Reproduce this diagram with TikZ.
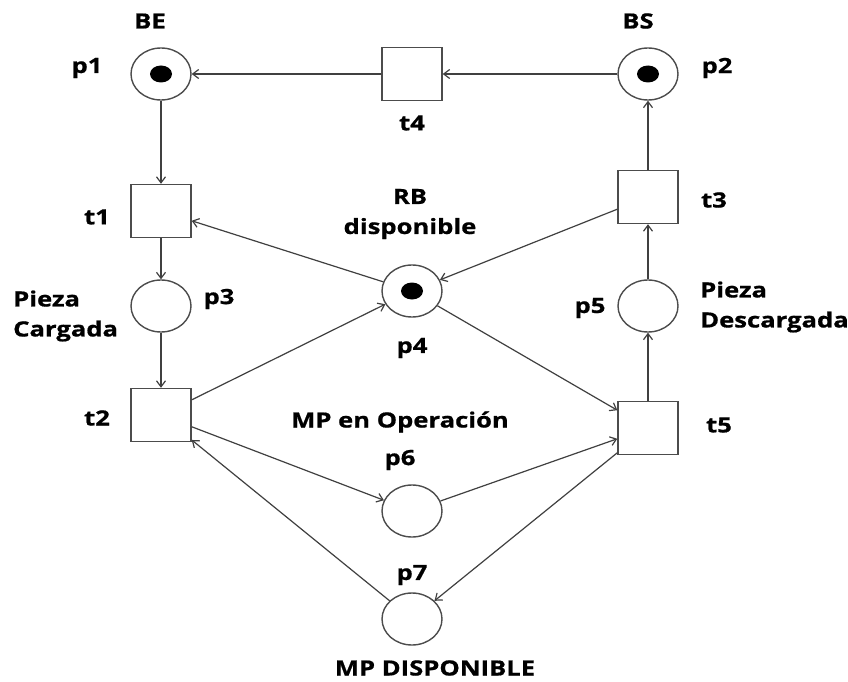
\documentclass[tikz,border=0pt]{standalone}
\usepackage{fontspec}
\setmainfont{Open Sans}[FakeStretch=1.22,BoldFeatures={FakeBold=0.8}]
\usetikzlibrary{shapes.geometric,arrows.meta}
\begin{document}
\begin{tikzpicture}[x=1pt,y=-1pt,
  place/.style={ellipse,draw=black!70,line width=1.4pt,minimum width=60pt,minimum height=52pt,inner sep=0pt},
  trans/.style={rectangle,draw=black!70,line width=1.4pt,minimum width=60pt,minimum height=53pt,inner sep=0pt},
  token/.style={ellipse,fill=black,minimum width=22pt,minimum height=17pt,inner sep=0pt},
  lbl/.style={font=\fontsize{21}{30}\selectfont\bfseries,inner sep=0pt},
  arc/.style={draw=black!75,line width=1.2pt,-{Straight Barb[length=6pt,width=9pt,line width=1.2pt]}}]
\useasboundingbox[fill=white] (0,0) rectangle (848,682);

% places
\node[place] (p1) at (161,74) {};
\node[place] (p2) at (648,74) {};
\node[place] (p3) at (161,306) {};
\node[place] (p4) at (412,291) {};
\node[place] (p5) at (648,306) {};
\node[place] (p6) at (412,511) {};
\node[place] (p7) at (412,619) {};

% marking
\node[token] (k1) at (p1) {};
\node[token] (k2) at (p2) {};
\node[token] (k4) at (p4) {};

% transitions
\node[trans] (t1) at (161,211) {};
\node[trans] (t2) at (161,415) {};
\node[trans] (t3) at (648,197) {};
\node[trans] (t4) at (412,74) {};
\node[trans] (t5) at (648,428) {};

% names
\node[lbl] (lp1) at (87,68) {p1};
\node[lbl] (lp2) at (717,68) {p2};
\node[lbl] (lp3) at (219,299) {p3};
\node[lbl] (lp4) at (412,348) {p4};
\node[lbl] (lp5) at (590,308) {p5};
\node[lbl] (lp6) at (400,460) {p6};
\node[lbl] (lp7) at (412,575) {p7};
\node[lbl] (lt1) at (97,217) {t1};
\node[lbl] (lt2) at (97,418) {t2};
\node[lbl] (lt3) at (714,200) {t3};
\node[lbl] (lt4) at (412,123) {t4};
\node[lbl] (lt5) at (719,425) {t5};

% descriptions
\node[lbl] (dBE) at (150,21) {BE};
\node[lbl] (dBS) at (638,21) {BS};
\node[lbl,align=center] (dRB) at (410,214) {RB\\disponible};
\node[lbl,align=left,anchor=west] (dp3) at (13,316) {Pieza\\Cargada};
\node[lbl,align=left,anchor=west] (dp5) at (700,307) {Pieza\\Descargada};
\node[lbl] (dp6) at (400,422) {MP en Operación};
\node[lbl] (dp7) at (435,668) {MP DISPONIBLE};

% arcs
\draw[arc] (t4) -- (p1);
\draw[arc] (p2) -- (t4);
\draw[arc] (p1) -- (t1);
\draw[arc] (t1) -- (p3);
\draw[arc] (p3) -- (t2);
\draw[arc] (t3) -- (p2);
\draw[arc] (p5) -- (t3);
\draw[arc] (t5) -- (p5);
\draw[arc] (p4) -- (t1);
\draw[arc] (t3) -- (p4);
\draw[arc] (t2) -- (p4);
\draw[arc] (p4) -- (t5);
\draw[arc] (t2) -- (p6);
\draw[arc] (p6) -- (t5);
\draw[arc] (t5) -- (p7);
\draw[arc] (p7) -- (t2);
\end{tikzpicture}
\end{document}
